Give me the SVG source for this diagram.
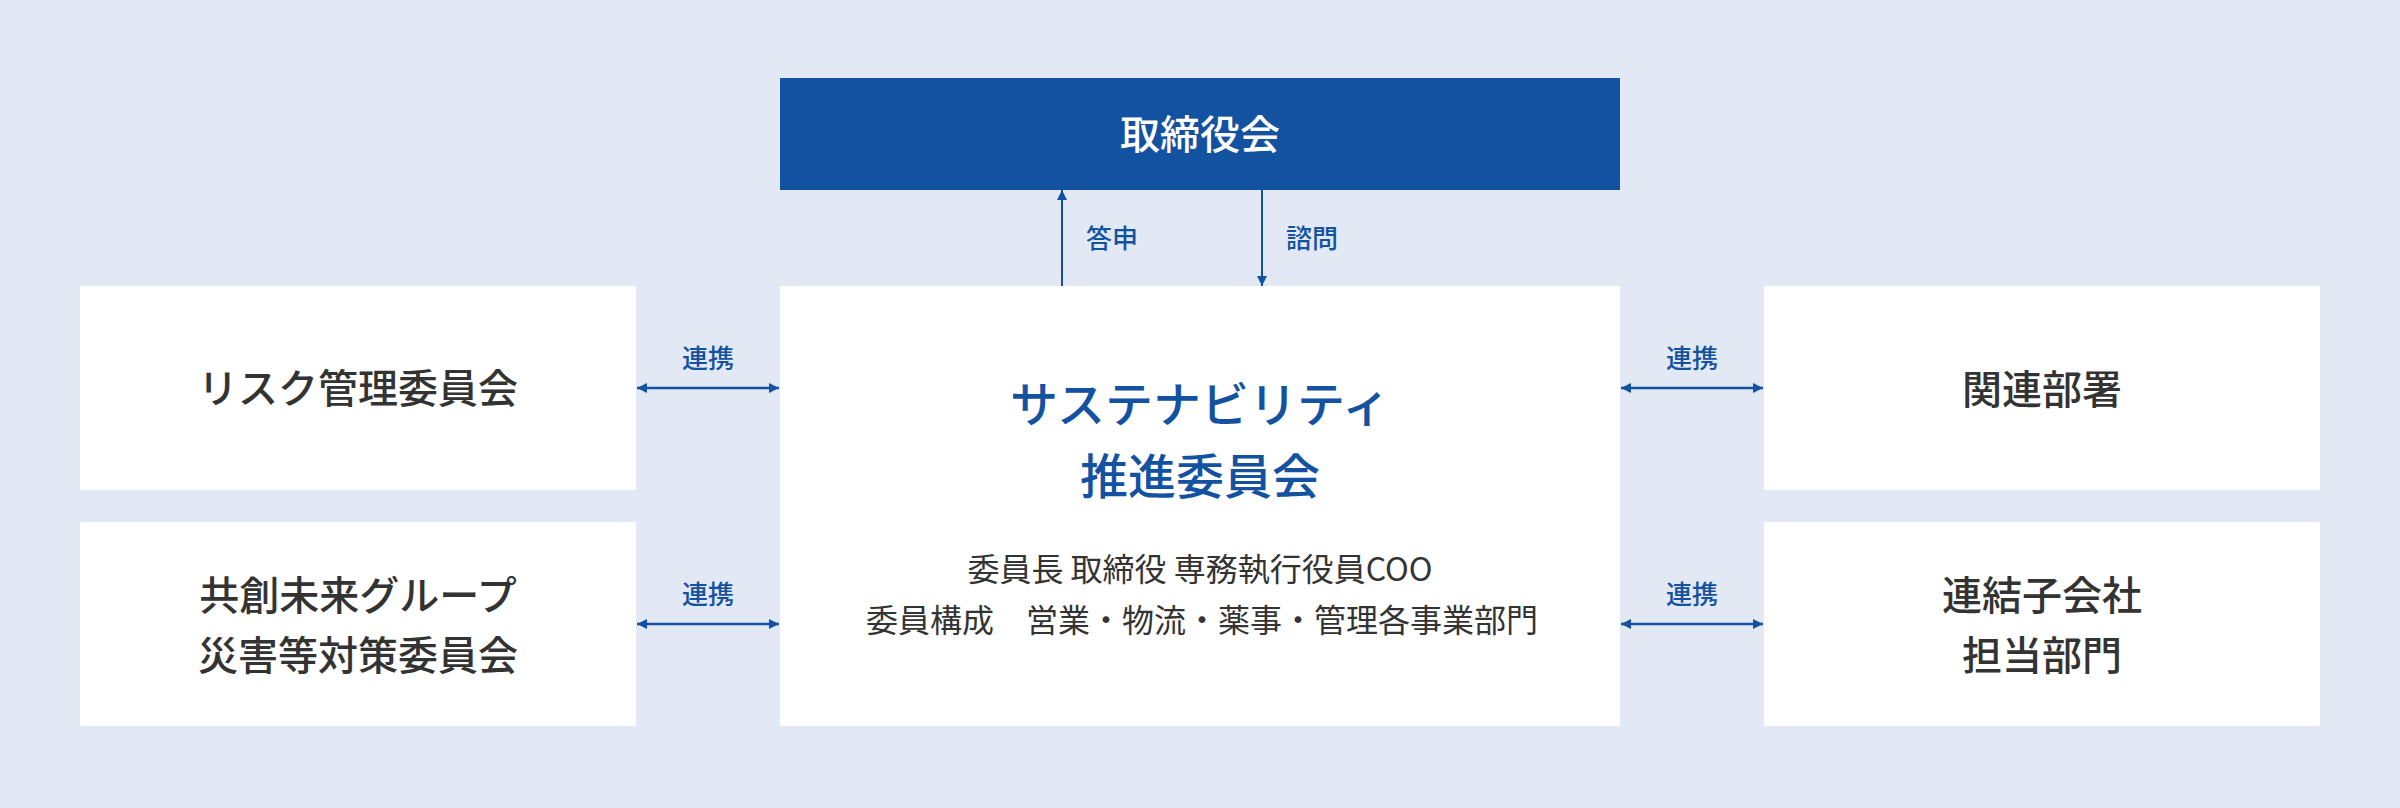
<svg xmlns="http://www.w3.org/2000/svg" width="2400" height="808" viewBox="0 0 2400 808">
  <defs>
    <style>
      .bg { fill: #E2E8F4; }
      .box { fill: #FFFFFF; }
      .board { fill: #1352A1; }
      .t { font-family: "Noto Sans CJK JP", "Noto Sans", sans-serif; }
      .node { font-size: 40px; fill: #333333; font-weight: 500; text-anchor: middle; }
      .title { font-size: 48px; fill: #1352A1; font-weight: 500; text-anchor: middle; }
      .sub { font-size: 32px; fill: #333333; text-anchor: middle; }
      .boardtxt { font-size: 40px; fill: #FFFFFF; font-weight: 500; text-anchor: middle; }
      .lbl { font-size: 26px; fill: #1352A1; font-weight: 500; }
      .conn { stroke: #1352A1; stroke-width: 2; fill: none; }
      .hconn { stroke: #1352A1; stroke-width: 2.5; fill: none; }
    </style>
    <marker id="ah" viewBox="0 0 10 10" refX="10" refY="5" markerWidth="10" markerHeight="10" markerUnits="userSpaceOnUse" orient="auto-start-reverse">
      <path d="M0,0 L10,5 L0,10 Z" fill="#1352A1"/>
    </marker>
  </defs>

  <rect class="bg" x="0" y="0" width="2400" height="808"/>

  <g id="board">
    <rect class="board" x="780" y="78" width="840" height="112"/>
    <text class="t boardtxt" x="1200" y="149">取締役会</text>
  </g>

  <g id="sustainability">
    <rect class="box" x="780" y="286" width="840" height="440"/>
    <text class="t title" x="1200" y="422">サステナビリティ</text>
    <text class="t title" x="1200" y="494">推進委員会</text>
    <text class="t sub" x="1200" y="581">委員長 取締役 専務執行役員COO</text>
    <text class="t sub" x="1202" y="632">委員構成　営業・物流・薬事・管理各事業部門</text>
  </g>

  <g id="risk">
    <rect class="box" x="80" y="286" width="556" height="204"/>
    <text class="t node" x="358" y="403">リスク管理委員会</text>
  </g>

  <g id="disaster">
    <rect class="box" x="80" y="522" width="556" height="204"/>
    <text class="t node" x="358" y="610">共創未来グループ</text>
    <text class="t node" x="358" y="670">災害等対策委員会</text>
  </g>

  <g id="related">
    <rect class="box" x="1764" y="286" width="556" height="204"/>
    <text class="t node" x="2042" y="404">関連部署</text>
  </g>

  <g id="subsidiary">
    <rect class="box" x="1764" y="522" width="556" height="204"/>
    <text class="t node" x="2042" y="610">連結子会社</text>
    <text class="t node" x="2042" y="670">担当部門</text>
  </g>

  <g id="connectors">
    <line class="conn" x1="1062" y1="286" x2="1062" y2="190" marker-end="url(#ah)"/>
    <text class="t lbl" x="1086" y="248">答申</text>
    <line class="conn" x1="1262" y1="190" x2="1262" y2="286" marker-end="url(#ah)"/>
    <text class="t lbl" x="1286" y="248">諮問</text>

    <line class="hconn" x1="637" y1="388" x2="779" y2="388" marker-start="url(#ah)" marker-end="url(#ah)"/>
    <text class="t lbl" x="708" y="368" text-anchor="middle">連携</text>
    <line class="hconn" x1="637" y1="624" x2="779" y2="624" marker-start="url(#ah)" marker-end="url(#ah)"/>
    <text class="t lbl" x="708" y="604" text-anchor="middle">連携</text>

    <line class="hconn" x1="1621" y1="388" x2="1763" y2="388" marker-start="url(#ah)" marker-end="url(#ah)"/>
    <text class="t lbl" x="1692" y="368" text-anchor="middle">連携</text>
    <line class="hconn" x1="1621" y1="624" x2="1763" y2="624" marker-start="url(#ah)" marker-end="url(#ah)"/>
    <text class="t lbl" x="1692" y="604" text-anchor="middle">連携</text>
  </g>
</svg>
